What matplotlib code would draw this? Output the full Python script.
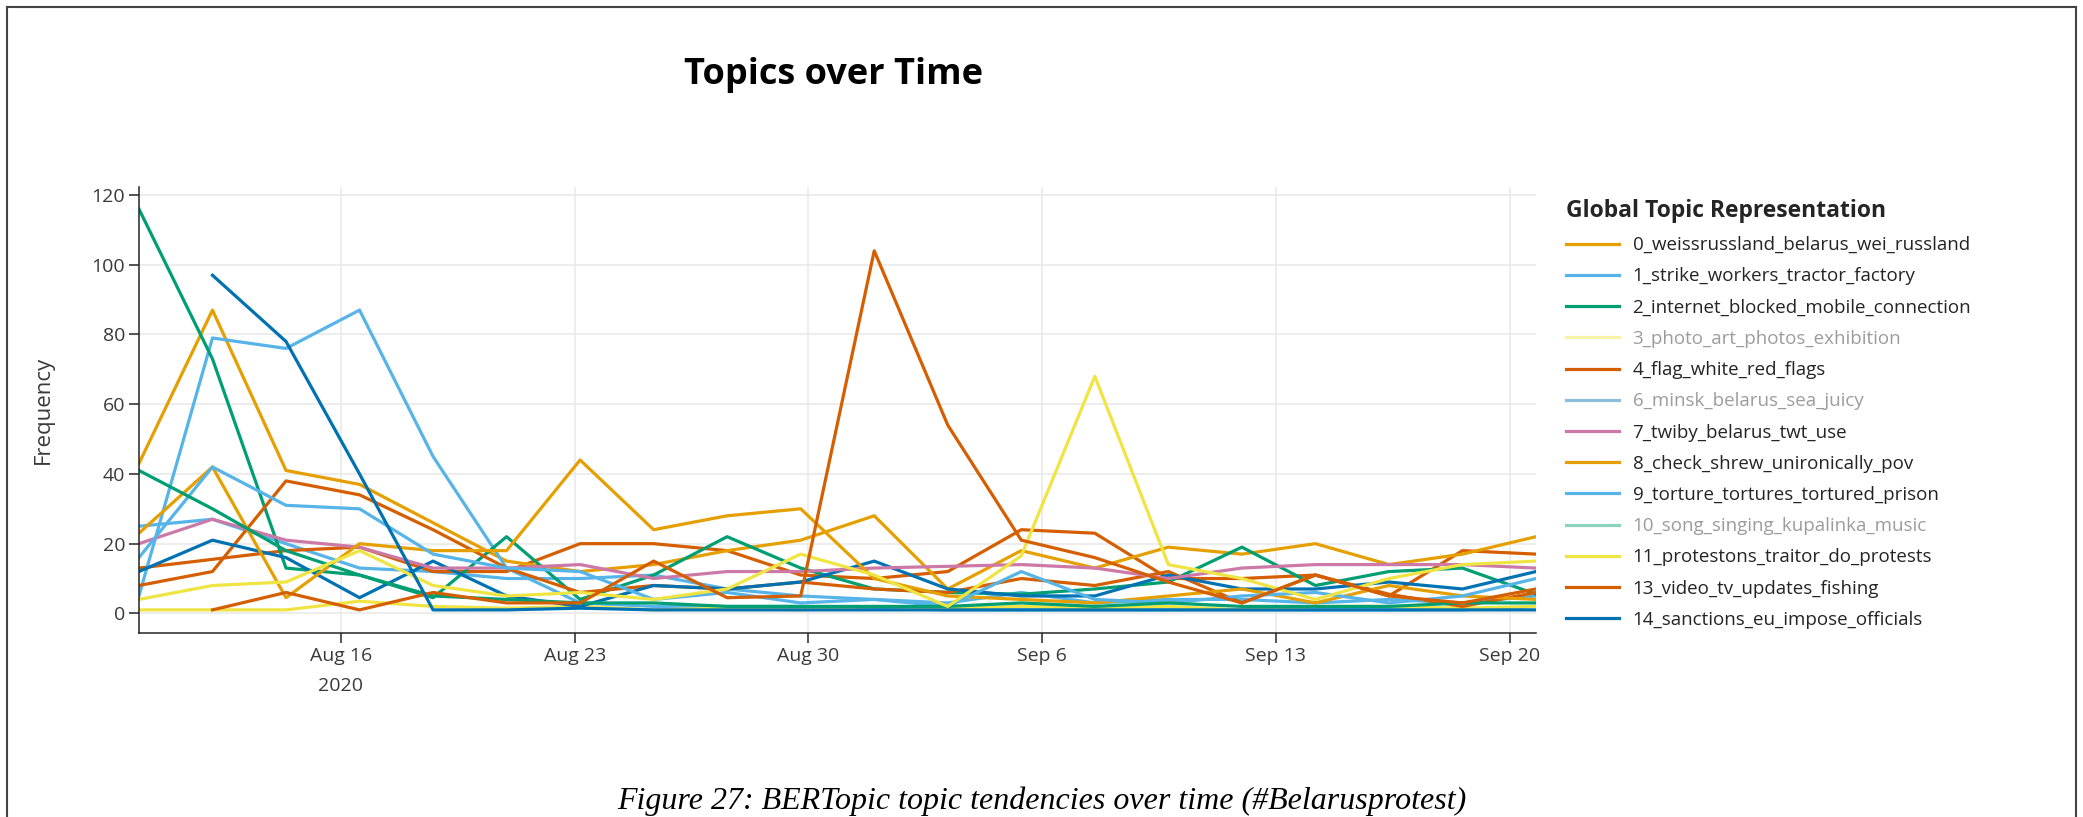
import numpy as np
import pandas as pd
import matplotlib
matplotlib.use("Agg")
import matplotlib.pyplot as plt
import matplotlib.dates as mdates
from matplotlib.lines import Line2D

plt.rcParams['font.family'] = ['Open Sans', 'DejaVu Sans']

# left edges of the 20 time bins
timestamps = pd.to_datetime([
    "2020-08-09 22:48", "2020-08-12 03:39", "2020-08-14 08:30", "2020-08-16 13:21",
    "2020-08-18 18:12", "2020-08-20 23:03", "2020-08-23 03:54", "2020-08-25 08:45",
    "2020-08-27 13:36", "2020-08-29 18:27", "2020-08-31 23:18", "2020-09-03 04:09",
    "2020-09-05 09:00", "2020-09-07 13:51", "2020-09-09 18:42", "2020-09-11 23:33",
    "2020-09-14 04:24", "2020-09-16 09:15", "2020-09-18 14:06", "2020-09-20 18:57",
])
nan = np.nan

labels = [
    "0_weissrussland_belarus_wei_russland",
    "1_strike_workers_tractor_factory",
    "2_internet_blocked_mobile_connection",
    "3_photo_art_photos_exhibition",
    "4_flag_white_red_flags",
    "6_minsk_belarus_sea_juicy",
    "7_twiby_belarus_twt_use",
    "8_check_shrew_unironically_pov",
    "9_torture_tortures_tortured_prison",
    "10_song_singing_kupalinka_music",
    "11_protestons_traitor_do_protests",
    "13_video_tv_updates_fishing",
    "14_sanctions_eu_impose_officials",
]
colors = ["#E69F00", "#56B4E9", "#009E73", "#F0E442", "#D55E00", "#0072B2", "#CC79A7",
          "#E69F00", "#56B4E9", "#009E73", "#F0E442", "#D55E00", "#0072B2"]
# entries switched off in the legend (drawn greyed out)
greyed = [3, 5, 9]

topic_0 = [43, 87, 41, 37, 26, 15, 12, 14, 18, 21, 28, 7, 18, 13, 19, 17, 20, 14, 17, 22]
topic_1 = [5, 79, 76, 87, 45, 13, 3, 2, 2, 2, 1.5, 1, 1, 1, 1, 1, 1, 1, 1, 2]
topic_2 = [116, 73, 13, 11, 4.5, 22, 4, 11, 22, 13, 7, 6, 5.5, 7, 9, 19, 8, 12, 13, 5.5]
topic_3 = [1, 1, 1, 3.5, 2, 1.5, 2, 1, 1.5, 1, 2, 1.5, 2, 1.5, 2, 1, 2, 2, 1.5, 2]
topic_4 = [8, 12, 38, 34, 24, 13, 6, 8, 7, 9, 7, 6, 10, 8, 12, 3, 11, 5.5, 2, 6]
topic_6 = [12, 21, 16, 4.5, 15, 5, 2, 8, 7, 9, 15, 7, 5, 5, 11, 7, 7, 9, 7, 12]
topic_7 = [20, 27, 21, 19, 13, 13, 14, 10, 12, 12, 13, 13.5, 14, 13, 10, 13, 14, 14, 14, 13]
topic_8 = [23, 42, 4.5, 20, 18, 18, 44, 24, 28, 30, 10, 5, 4, 3, 5, 7, 3, 8, 5, 4]
topic_9 = [16, 42, 31, 30, 17, 13, 12, 4, 6, 3, 4, 2, 12, 4, 3, 5, 6, 3, 5, 10]
topic_10 = [41, 30, 18, 11, 5, 4, 3, 3, 2, 2, 2, 2, 3, 2, 3, 2, 2, 2, 3, 3]
topic_11 = [4, 8, 9, 18, 8, 5, 6, 4, 7, 17, 11, 2, 16.5, 68, 14, 10, 4, 10, 14, 15]
topic_13 = [nan, 1, 6, 1, 6, 3, 3, 15, 4.5, 5, 104, 54, 21, 16, 9, 3, 11, 5, 3, 7]
topic_14 = [nan, 97, 78, 40, 1, 1, 1.5, 1, 1, 1, 1, 1, 1, 1, 1, 1, 1, 1, 1, 1]

# traces that have no entry in the legend box
unlisted_red = [13, 15.5, 18, 19, 12, 12, 20, 20, 18, 11, 10, 12, 24, 23, 10, 10, 11, 5, 18, 17]
unlisted_sky = [25, 27, 20, 13, 12, 10, 10, 11, 7, 5, 4, 3, 6, 3, 4, 4, 3, 4, 3, 5]

series = [topic_0, topic_1, topic_2, topic_3, topic_4, topic_6, topic_7,
          topic_8, topic_9, topic_10, topic_11, topic_13, topic_14]

tick_dates = pd.to_datetime(["2020-08-16", "2020-08-23", "2020-08-30",
                             "2020-09-06", "2020-09-13", "2020-09-20"])
tick_labels = ["Aug 16\n2020", "Aug 23", "Aug 30", "Sep 6", "Sep 13", "Sep 20"]

ink = "#242424"

fig = plt.figure(figsize=(20.83, 8.17), dpi=100)
ax = fig.add_axes([0.0667, 0.2249, 0.6707, 0.5466])

ax.plot(timestamps, unlisted_sky, color="#56B4E9", lw=2.3)
ax.plot(timestamps, unlisted_red, color="#D55E00", lw=2.3)
lines = []
for label, color, values in zip(labels, colors, series):
    line, = ax.plot(timestamps, values, color=color, lw=2.3, label=label)
    lines.append(line)

ax.set_xlim(timestamps[0], timestamps[-1])
ax.set_ylim(-5.7, 122.4)
ax.set_xticks(mdates.date2num(tick_dates))
ax.set_xticklabels(tick_labels, linespacing=1.85)
ax.set_yticks(range(0, 121, 20))

ax.grid(True, color="#e8e8e8", lw=1.1)
ax.set_axisbelow(True)
for side in ["top", "right"]:
    ax.spines[side].set_visible(False)
for side in ["left", "bottom"]:
    ax.spines[side].set_color(ink)
    ax.spines[side].set_linewidth(1.1)
ax.tick_params(direction="out", length=7, width=1.1, color=ink,
               labelsize=14, labelcolor="#3a3a3a", pad=3)

ax.set_ylabel("Frequency", fontsize=16, color="#3a3a3a")
ax.yaxis.set_label_coords(-0.0612, 0.5)

leg = fig.legend(handles=lines, labels=labels, loc="upper left",
                 bbox_to_anchor=(1566 / 2083, 1 - 199 / 817),
                 frameon=False, fontsize=13.5,
                 title="Global Topic Representation",
                 title_fontproperties={"weight": "bold", "size": 16.5},
                 alignment="left", handlelength=2.8, handletextpad=0.75,
                 labelspacing=0.705, borderpad=0, borderaxespad=0)
for text in leg.get_texts():
    text.set_color(ink)
leg.get_title().set_color(ink)
for i in greyed:
    leg.get_texts()[i].set_alpha(0.45)
    leg.legend_handles[i].set_alpha(0.45)

fig.text(834 / 2083, 1 - 83.7 / 817, "Topics over Time", ha="center", va="baseline",
         fontsize=26, fontweight="bold", color="black")

fig.text(0.5, 0.0098, "Figure 27: BERTopic topic tendencies over time (#Belarusprotest)",
         ha="center", va="baseline", family="Liberation Serif", style="italic",
         fontsize=23, color="black")

# page frame
top = 1 - 7 / 817
frame = dict(transform=fig.transFigure, color="#444444", lw=1.5)
fig.add_artist(Line2D([7 / 2083, 7 / 2083], [0, top], **frame))
fig.add_artist(Line2D([7 / 2083, 2076 / 2083], [top, top], **frame))
fig.add_artist(Line2D([2076 / 2083, 2076 / 2083], [0, top], **frame))

fig.savefig("out.png", dpi=100)
